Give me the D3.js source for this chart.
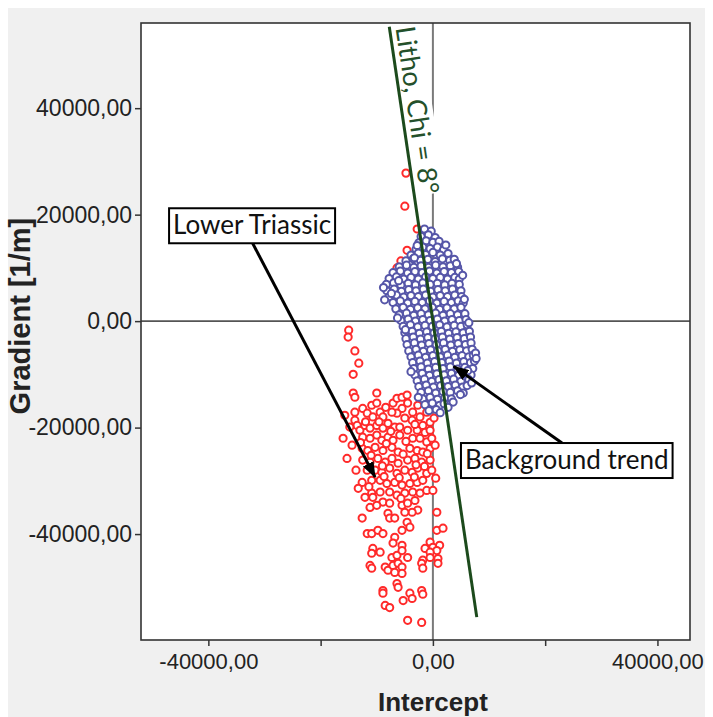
<!DOCTYPE html>
<html>
<head>
<meta charset="utf-8">
<script src="https://cdn.jsdelivr.net/npm/d3@7"></script>
<style>
  html, body { margin: 0; padding: 0; background: #ffffff; }
  svg { display: block; }
</style>
</head>
<body>
<svg id="chart" width="713" height="717"></svg>
<script>
// Axis ticks
const xTicks = [-40000, -20000, 0, 20000, 40000];
const xTickLabels = [-40000, 0, 40000];
const yTicks = [40000, 20000, 0, -20000, -40000];

// Axis titles
const xTitle = "Intercept";
const yTitle = "Gradient [1/m]";

// Lithology trend line: Chi angle (degrees) and its gradient extent
const chiDeg = 8;
const trendGradient = [55300, -55600];
const trendLabel = "Litho, Chi = 8°";

// Lower Triassic samples: [intercept, gradient]
const lowerTriassic = [
  [-4800,27800],[-5000,21600],[-2800,17300],[-4600,13300],[-5700,11300],[-6400,10000],
  [-15000,-1700],[-15100,-3000],[-13900,-5600],[-13200,-7900],[-14200,-10000],[-14200,-13500],[-13900,-14300],
  [-10000,-13500],[-13900,-17100],[-12500,-16400],[-11700,-17300],[-10900,-15800],[-10000,-15400],[-9400,-17100],
  [-10700,-18000],[-8900,-18000],[-7100,-15400],[-6400,-14500],[-5500,-14300],[-4600,-13900],[-4500,-15400],
  [-5500,-16400],[-3600,-17100],[-2300,-18000],[-1100,-17100],[-500,-19000],[-1800,-19600],[-3700,-18600],
  [-5000,-18200],[-6400,-17300],[-7300,-17100],[-13900,-18600],[-13500,-19600],[-13000,-20500],[-12100,-19600],
  [-11200,-20100],[-10000,-19600],[-8900,-20100],[-8000,-19200],[-6800,-19900],[-5900,-19900],[-4500,-20500],
  [-2800,-20500],[-1400,-20900],[-500,-20500],[-12500,-21800],[-11200,-22000],[-10000,-21400],[-9100,-22400],
  [-8000,-21800],[-7100,-22400],[-5900,-21400],[-3600,-22000],[-2300,-22000],[-1100,-22700],[-200,-22000],
  [-12600,-23900],[-11600,-24300],[-10300,-23700],[-8900,-24300],[-7300,-23700],[-6200,-24600],[-4100,-23900],
  [-2800,-24300],[-1800,-24600],[-500,-23900],[-12500,-26100],[-11200,-26500],[-9800,-25800],[-8500,-26500],
  [-7300,-25800],[-6200,-26700],[-4500,-26100],[-3200,-25800],[-2000,-26500],[-500,-26100],[-11700,-28000],
  [-10300,-28000],[-9100,-28400],[-7700,-27600],[-6400,-28600],[-5000,-28000],[-3700,-28400],[-2700,-27600],
  [-1100,-28600],[-200,-28000],[-12600,-30300],[-10900,-29900],[-9400,-29900],[-8200,-30500],[-6800,-30300],
  [-5500,-30800],[-4100,-30500],[-2800,-30300],[-1800,-29900],[-10900,-32300],[-9400,-32100],[-7700,-32100],
  [-6400,-32700],[-5000,-32300],[-3600,-32100],[-2300,-32300],[-1100,-31800],
  [-15700,-17700],[-16000,-22000],[-15300,-25800],[-14800,-19900],[-14400,-23300],[-13700,-28000],[-13300,-31400],
  [-12100,-33100],[-8400,-16200],[-2700,-15800],[-1600,-14900],[-400,-16400],[200,-18200],[400,-23300],
  [500,-29500],[0,-31800],
  [-12000,-18900],[-9600,-18900],[-7500,-20700],[-3200,-19400],[-1000,-24900],[-8300,-23000],[-11000,-25200],
  [-5300,-25000],[-3000,-27000],[-8700,-29200],[-6000,-29400],[-3300,-29300],[-11400,-31100],[-5700,-33300],
  [-9000,-27200],[-1500,-27300],[-12900,-22800],[-4800,-22600],
  [-10700,-33100],[-8900,-34000],[-11200,-35000],[-10000,-34600],[-7700,-34200],[-5500,-34600],[-4500,-34200],
  [-3200,-33700],[-2700,-35500],[-3700,-35900],[-5000,-35900],[-12600,-37000],[-8000,-36100],[-7700,-37000],
  [-6800,-37000],[-4600,-37800],[-4100,-38700],[-5500,-39300],[700,-35900],[700,-39300],[1800,-38900],
  [-11700,-39900],[-10900,-39900],[-9800,-39300],[-8900,-39900],[-6800,-40600],[-7100,-41700],[-5500,-42100],
  [-500,-41500],[-1400,-42700],[0,-42500],[1200,-42100],[700,-43100],[-500,-43400],[-10700,-42700],
  [-9400,-43400],[-10900,-43600],[-7300,-44400],[-6400,-44000],[-4500,-44400],[-5500,-43100],[-500,-44400],
  [900,-44600],[-1800,-44900],[-11200,-45900],[-10900,-46400],[-8500,-46200],[-8000,-46800],[-7100,-45900],
  [-6200,-45500],[-5500,-46200],[-5500,-47400],[-6800,-47200],[-2000,-45500],[-1800,-46400],[900,-45500],
  [-6400,-49300],[-6200,-50000],[-8900,-50600],[-8900,-51100],[-4100,-51100],[-5300,-52500],[-3700,-52100],
  [-2000,-50600],[-1800,-51300],[-8500,-53400],[-7700,-53800],[-4500,-56200],[-2000,-56600]
];

// Background trend samples: [intercept, gradient]
const backgroundTrend = [
  [-1500,17300],[-300,16900],
  [-2100,15900],[-800,16200],[400,15700],
  [-2500,14700],[-1200,15100],[0,14800],[1100,15000],
  [-3000,13500],[-1800,13900],[-500,13600],[800,13900],[1900,13400],
  [-3900,12400],[-2600,12800],[-1300,12500],[0,12900],[1300,12400],[2700,12700],
  [-4800,11300],[-3500,11700],[-2200,11400],[-900,11600],[400,11200],[1700,11700],[3000,11400],[3800,11600],
  [-6000,10200],[-4700,10500],[-3400,10100],[-2100,10400],[-800,10100],[500,10500],[1800,10200],[3100,10400],[4400,10100],
  [-7100,9100],[-5800,9400],[-4500,9000],[-3200,9300],[-1900,9100],[-600,9400],[700,9000],[2000,9300],[3300,9100],[4600,9300],
  [-7800,8000],[-6500,8300],[-5200,7900],[-3900,8200],[-2600,7900],[-1300,8300],[0,8000],[1300,8200],[2600,7900],[3900,8200],[4700,7900],
  [-8300,6900],[-7000,7200],[-5700,6800],[-4400,7100],[-3100,6800],[-1800,7200],[-500,6900],[800,7100],[2100,6800],[3400,7100],[4700,6900],
  [-8200,5700],[-6900,6000],[-5600,5600],[-4300,5900],[-3000,5700],[-1700,6000],[-400,5600],[900,5900],[2200,5700],[3500,6000],[5000,5700],
  [-7800,4600],[-6500,4900],[-5200,4500],[-3900,4800],[-2600,4600],[-1300,4900],[0,4500],[1300,4800],[2600,4600],[3900,4900],[5100,4600],
  [-7100,3500],[-5800,3800],[-4500,3400],[-3200,3700],[-1900,3500],[-600,3800],[700,3400],[2000,3700],[3300,3500],[4500,3800],[5400,3400],
  [-6600,2300],[-5300,2600],[-4000,2200],[-2700,2500],[-1400,2300],[-100,2600],[1200,2200],[2500,2500],[3800,2300],[5000,2600],
  [-6000,1200],[-4700,1500],[-3400,1100],[-2100,1400],[-800,1200],[500,1500],[1800,1100],[3100,1400],[4400,1200],[5700,1400],
  [-5700,100],[-4400,400],[-3100,0],[-1800,300],[-500,100],[800,400],[2100,0],[3400,300],[4700,100],[5900,300],
  [-5300,-1000],[-4000,-700],[-2700,-1100],[-1400,-800],[-100,-1000],[1200,-700],[2500,-1100],[3800,-800],[5000,-1000],[6100,-700],
  [-5000,-2200],[-3700,-1900],[-2400,-2300],[-1100,-2000],[200,-2200],[1500,-1900],[2800,-2300],[4100,-2000],[5400,-2200],[6500,-1900],
  [-4800,-3300],[-3500,-3000],[-2200,-3400],[-900,-3100],[400,-3300],[1700,-3000],[3000,-3400],[4300,-3100],[5600,-3300],[6700,-3000],
  [-4600,-4400],[-3300,-4100],[-2000,-4500],[-700,-4200],[600,-4400],[1900,-4100],[3200,-4500],[4500,-4200],[5800,-4400],[6800,-4100],
  [-4300,-5600],[-3000,-5300],[-1700,-5700],[-400,-5400],[900,-5600],[2200,-5300],[3500,-5700],[4800,-5400],[6000,-5600],[7000,-5300],
  [-3900,-6700],[-2600,-6400],[-1300,-6800],[0,-6500],[1300,-6700],[2600,-6400],[3900,-6800],[5200,-6500],[6400,-6700],[7200,-6400],
  [-3600,-7800],[-2300,-7500],[-1000,-7900],[300,-7600],[1600,-7800],[2900,-7500],[4200,-7900],[5500,-7600],[6700,-7800],[7400,-7500],
  [-3400,-8900],[-2100,-8600],[-800,-9000],[500,-8700],[1800,-8900],[3100,-8600],[4400,-9000],[5700,-8700],[7100,-8900],
  [-3200,-10100],[-1900,-9800],[-600,-10200],[700,-9900],[2000,-10100],[3300,-9800],[4600,-10200],[5900,-9900],[6800,-10100],
  [-2800,-11200],[-1500,-10900],[-200,-11300],[1100,-11000],[2400,-11200],[3700,-10900],[5000,-11300],[6400,-11000],
  [-2500,-12300],[-1200,-12000],[100,-12400],[1400,-12100],[2700,-12300],[4000,-12000],[5300,-12400],[6100,-12100],
  [-2100,-13400],[-800,-13100],[500,-13500],[1800,-13200],[3100,-13400],[4400,-13100],[5400,-13500],
  [-1800,-14600],[-500,-14300],[800,-14700],[2100,-14400],[3300,-14600],
  [-1400,-15700],[-100,-15400],[1200,-15800],[2000,-15500],
  [-700,-16800],[600,-16600],
  [-8800,6300],[-8600,4000],[5600,4100],[6400,-300],[7600,-6000],[7700,-7000],[6900,-11600],[4900,-13800],
  [3600,-15200],[-3900,-9500],[1300,-17200],[-4900,-1600],[-6300,600],[-2800,14200],[2300,14300],[-3300,11900],
  [-7400,5200],[-6100,7600],[4200,10800],[5300,8600],[2700,-16200],[-2600,-14300],[6200,-9300]
];

// Callouts: label box corner, arrow tail and arrow tip, all in data units
const callouts = [
  { text: "Lower Triassic", box: [-47000, 21200], tail: [-32100, 14600], tip: [-10300, -29300] },
  { text: "Background trend", box: [5000, -22900], tail: [23000, -22900], tip: [3700, -8500] }
];

const svg = d3.select("#chart");
const W = 713, H = 717;
const plot = { left: 141, right: 690, top: 23, bottom: 640 };

const x = d3.scaleLinear().domain([-52000, 45800]).range([plot.left, plot.right]);
const y = d3.scaleLinear().domain([-59900, 56000]).range([plot.bottom, plot.top]);

const fmt = d3.formatLocale({ decimal: ",", thousands: "", grouping: [3], currency: ["", ""], minus: "-" }).format(".2f");

// Grey panel behind the chart
svg.append("rect").attr("x", 8).attr("y", 8).attr("width", W - 16).attr("height", H - 8).attr("fill", "#f0f0f0");
svg.append("rect")
  .attr("x", plot.left).attr("y", plot.top)
  .attr("width", plot.right - plot.left).attr("height", plot.bottom - plot.top)
  .attr("fill", "#ffffff");

// Zero lines
svg.append("line")
  .attr("x1", plot.left).attr("x2", plot.right).attr("y1", y(0)).attr("y2", y(0))
  .attr("stroke", "#555555").attr("stroke-width", 1.6);
svg.append("line")
  .attr("x1", x(0)).attr("x2", x(0)).attr("y1", plot.top).attr("y2", plot.bottom)
  .attr("stroke", "#7a7a7a").attr("stroke-width", 2);

// Trend line through the origin at angle Chi from the gradient axis
const tanChi = Math.tan(chiDeg * Math.PI / 180);
const trendPts = trendGradient.map(g => [-g * tanChi, g]);
const p1 = [x(trendPts[0][0]), y(trendPts[0][1])];
const p2 = [x(trendPts[1][0]), y(trendPts[1][1])];
const angle = Math.atan2(p2[1] - p1[1], p2[0] - p1[0]) * 180 / Math.PI;

// Trend label with white backing
const labelG = svg.append("g")
  .attr("transform", `translate(${p1[0]},${p1[1]}) rotate(${angle})`);
const labelBg = labelG.append("rect").attr("fill", "#ffffff");
const labelText = labelG.append("text")
  .attr("x", 2).attr("y", -6)
  .attr("font-family", "Lato, 'Open Sans', sans-serif")
  .attr("font-size", 27)
  .attr("fill", "#24502a")
  .text(trendLabel);
const lb = labelText.node().getBBox();
labelBg.attr("x", lb.x).attr("y", lb.y + 2).attr("width", lb.width).attr("height", lb.height - 2);

// Sample points
const dots = svg.append("g");
dots.selectAll("circle.lt").data(lowerTriassic).join("circle")
  .attr("class", "lt")
  .attr("cx", d => x(d[0])).attr("cy", d => y(d[1])).attr("r", 3.6)
  .attr("fill", "#ffffff").attr("stroke", "#ff2a2a").attr("stroke-width", 2);
dots.selectAll("circle.bg").data(backgroundTrend).join("circle")
  .attr("class", "bg")
  .attr("cx", d => x(d[0])).attr("cy", d => y(d[1])).attr("r", 3.6)
  .attr("fill", "#ffffff").attr("stroke", "#5656a8").attr("stroke-width", 2);

// Trend line on top of the points
svg.append("line")
  .attr("x1", p1[0]).attr("y1", p1[1]).attr("x2", p2[0]).attr("y2", p2[1])
  .attr("stroke", "#1c4a1c").attr("stroke-width", 3);

// Plot frame
svg.append("rect")
  .attr("x", plot.left).attr("y", plot.top)
  .attr("width", plot.right - plot.left).attr("height", plot.bottom - plot.top)
  .attr("fill", "none").attr("stroke", "#333333").attr("stroke-width", 1.6);

// Axes
const axisFont = "'Liberation Sans', Arial, sans-serif";
const yAxis = d3.axisLeft(y).tickValues(yTicks).tickSize(6).tickPadding(3).tickFormat(fmt);
const gy = svg.append("g").attr("transform", `translate(${plot.left},0)`).call(yAxis);
gy.select(".domain").remove();
gy.selectAll(".tick line").attr("stroke", "#333").attr("stroke-width", 1.5);
gy.selectAll(".tick text").attr("font-family", axisFont).attr("font-size", 23).attr("fill", "#222");

const xAxis = d3.axisBottom(x).tickValues(xTicks).tickSize(6).tickPadding(7)
  .tickFormat(d => xTickLabels.includes(d) ? fmt(d) : "");
const gx = svg.append("g").attr("transform", `translate(0,${plot.bottom})`).call(xAxis);
gx.select(".domain").remove();
gx.selectAll(".tick line").attr("stroke", "#333").attr("stroke-width", 1.5);
gx.selectAll(".tick text").attr("font-family", axisFont).attr("font-size", 22).attr("fill", "#222");

// Axis titles
svg.append("text")
  .attr("x", x(0)).attr("y", 711)
  .attr("text-anchor", "middle")
  .attr("font-family", axisFont).attr("font-weight", "bold").attr("font-size", 26)
  .attr("fill", "#222")
  .text(xTitle);
svg.append("text")
  .attr("transform", `translate(30,${y(0) - 5}) rotate(-90)`)
  .attr("text-anchor", "middle")
  .attr("font-family", axisFont).attr("font-weight", "bold").attr("font-size", 29)
  .attr("fill", "#222")
  .text(yTitle);

// Callout arrows and boxes
const defs = svg.append("defs");
defs.append("marker")
  .attr("id", "arrowhead")
  .attr("viewBox", "0 0 16 12")
  .attr("refX", 15).attr("refY", 6)
  .attr("markerWidth", 16).attr("markerHeight", 12)
  .attr("markerUnits", "userSpaceOnUse")
  .attr("orient", "auto")
  .append("path").attr("d", "M0,0 L16,6 L0,12 Z").attr("fill", "#000");

callouts.forEach(c => {
  svg.append("line")
    .attr("x1", x(c.tail[0])).attr("y1", y(c.tail[1]))
    .attr("x2", x(c.tip[0])).attr("y2", y(c.tip[1]))
    .attr("stroke", "#000").attr("stroke-width", 3)
    .attr("marker-end", "url(#arrowhead)");
  const g = svg.append("g").attr("transform", `translate(${x(c.box[0])},${y(c.box[1])})`);
  const r = g.append("rect").attr("fill", "#fff").attr("stroke", "#000").attr("stroke-width", 2);
  const t = g.append("text")
    .attr("x", 4).attr("y", 26)
    .attr("font-family", "Lato, 'Open Sans', sans-serif").attr("font-size", 26)
    .attr("fill", "#111")
    .text(c.text);
  const w = t.node().getComputedTextLength();
  r.attr("width", w + 8).attr("height", 35);
});
</script>
</body>
</html>
